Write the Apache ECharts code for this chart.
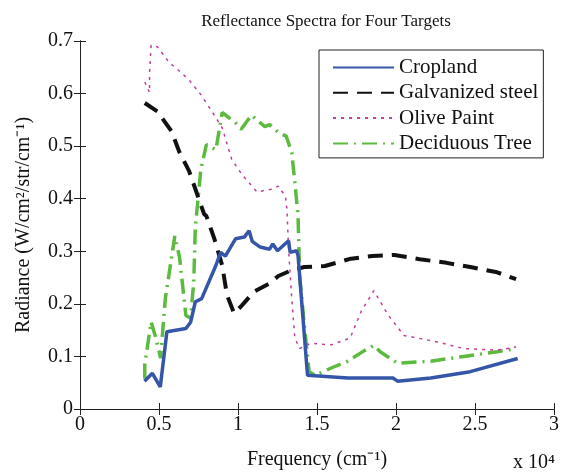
<!DOCTYPE html>
<html><head><meta charset="utf-8">
<script src="https://cdn.jsdelivr.net/npm/echarts@6/dist/echarts.min.js"></script>
<style>html,body{margin:0;padding:0;background:#fff}#c{width:562px;height:475px}</style>
</head><body><div id="c"></div>
<script>
// x values in units of 10^4 cm^-1, y = radiance
const cropland = [[0.408,0.053],[0.458,0.068],[0.508,0.042],[0.55,0.147],[0.67,0.153],[0.70,0.165],[0.73,0.204],[0.77,0.210],[0.86,0.273],[0.89,0.298],[0.92,0.291],[0.985,0.324],[1.04,0.327],[1.07,0.339],[1.09,0.319],[1.14,0.308],[1.2,0.304],[1.22,0.314],[1.25,0.301],[1.32,0.320],[1.33,0.298],[1.37,0.301],[1.38,0.292],[1.44,0.064],[1.695,0.059],[1.98,0.059],[2.01,0.053],[2.22,0.059],[2.47,0.071],[2.77,0.096]];
const steel = [[0.41,0.582],[0.49,0.566],[0.58,0.528],[0.63,0.488],[0.69,0.453],[0.785,0.371],[0.80,0.367],[0.85,0.324],[0.90,0.273],[0.93,0.217],[0.975,0.182],[1.025,0.197],[1.10,0.223],[1.20,0.239],[1.255,0.253],[1.34,0.264],[1.42,0.270],[1.55,0.272],[1.715,0.286],[1.85,0.291],[1.99,0.293],[2.15,0.285],[2.32,0.278],[2.47,0.270],[2.64,0.260],[2.76,0.247]];
const olive = [[0.41,0.622],[0.44,0.602],[0.44,0.639],[0.45,0.692],[0.49,0.689],[0.53,0.673],[0.565,0.659],[0.61,0.648],[0.69,0.626],[0.765,0.598],[0.835,0.566],[0.90,0.535],[0.96,0.475],[1.025,0.446],[1.12,0.413],[1.21,0.418],[1.255,0.424],[1.30,0.405],[1.31,0.380],[1.32,0.304],[1.34,0.210],[1.36,0.135],[1.39,0.115],[1.46,0.125],[1.59,0.122],[1.71,0.135],[1.78,0.186],[1.86,0.225],[1.95,0.179],[2.05,0.140],[2.24,0.129],[2.43,0.115],[2.64,0.112],[2.76,0.118]];
const tree = [[0.41,0.058],[0.41,0.084],[0.45,0.166],[0.48,0.135],[0.51,0.097],[0.54,0.210],[0.60,0.329],[0.63,0.289],[0.67,0.178],[0.70,0.173],[0.72,0.242],[0.73,0.346],[0.765,0.456],[0.80,0.503],[0.86,0.493],[0.90,0.564],[0.985,0.544],[1.02,0.532],[1.085,0.559],[1.17,0.537],[1.2,0.541],[1.255,0.526],[1.305,0.519],[1.34,0.488],[1.36,0.431],[1.38,0.367],[1.39,0.253],[1.42,0.159],[1.45,0.071],[1.49,0.064],[1.59,0.078],[1.695,0.091],[1.80,0.111],[1.86,0.121],[1.90,0.109],[2.01,0.087],[2.22,0.091],[2.43,0.100],[2.64,0.109],[2.76,0.115]];
const seriesNames = ['Cropland','Galvanized steel','Olive Paint','Deciduous Tree'];
const titleText = 'Reflectance Spectra for Four Targets';

const font = 'Liberation Serif';
const chart = echarts.init(document.getElementById('c'), null, {renderer:'canvas'});
const axisLine = {show:true, lineStyle:{color:'#222', width:1}};
const tick = {show:true, inside:true, length:6, lineStyle:{color:'#222'}};
chart.setOption({
  animation:false,
  backgroundColor:'#fff',
  title:{text:titleText, left:321, top:8, textAlign:'center', textStyle:{fontFamily:font, fontWeight:'normal', fontSize:17, color:'#111'}},
  grid:{left:80, right:4, top:41, bottom:64},
  legend:{
    orient:'vertical', left:319, top:50,
    backgroundColor:'#fff', borderColor:'#222', borderWidth:1,
    padding:[7,5,4,13], itemGap:4.3, itemWidth:61, itemHeight:20,
    itemStyle:{opacity:0},
    textStyle:{fontFamily:font, fontSize:21, color:'#111'},
    data:seriesNames
  },
  xAxis:[
    {type:'value', min:0, max:3, interval:0.5, axisLine, axisTick:tick, splitLine:{show:false},
     axisLabel:{fontFamily:font, fontSize:20, color:'#111', margin:6},
     name:'Frequency (cm\u207B\u00B9)', nameLocation:'middle', nameGap:41,
     nameTextStyle:{fontFamily:font, fontSize:20, color:'#111'}},
    {type:'value', position:'top', min:0, max:3, interval:0.5, axisLine, axisTick:tick, axisLabel:{show:false}, splitLine:{show:false}}
  ],
  yAxis:[
    {type:'value', min:0, max:0.7, interval:0.1, axisLine, axisTick:tick, splitLine:{show:false},
     axisLabel:{fontFamily:font, fontSize:20, color:'#111', margin:7},
     name:'Radiance (W/cm\u00B2/str/cm\u207B\u00B9)', nameLocation:'middle', nameGap:46,
     nameTextStyle:{fontFamily:font, fontSize:20, color:'#111'}},
    {type:'value', position:'right', min:0, max:0.7, interval:0.1, axisLine, axisTick:tick, axisLabel:{show:false}, splitLine:{show:false}}
  ],
  graphic:[{type:'text', left:513, top:453, style:{text:'x 10\u2074', font:'20px "Liberation Serif"', fill:'#111'}}],
  series:[
    {name:seriesNames[0], type:'line', data:cropland, showSymbol:false, symbol:'none', color:'#3556a8', lineStyle:{width:3.5, color:'#3556a8'}, z:5},
    {name:seriesNames[1], type:'line', data:steel, showSymbol:false, symbol:'none', color:'#111', lineStyle:{width:4, color:'#111', type:[15,9]}, z:4},
    {name:seriesNames[2], type:'line', data:olive, showSymbol:false, symbol:'none', color:'#c0409f', lineStyle:{width:1.5, color:'#c0409f', type:[3,5]}, z:3},
    {name:seriesNames[3], type:'line', data:tree, showSymbol:false, symbol:'none', color:'#5cbb3e', lineStyle:{width:3.5, color:'#5cbb3e', type:[15,6,2,6]}, z:2}
  ]
});
</script></body></html>
